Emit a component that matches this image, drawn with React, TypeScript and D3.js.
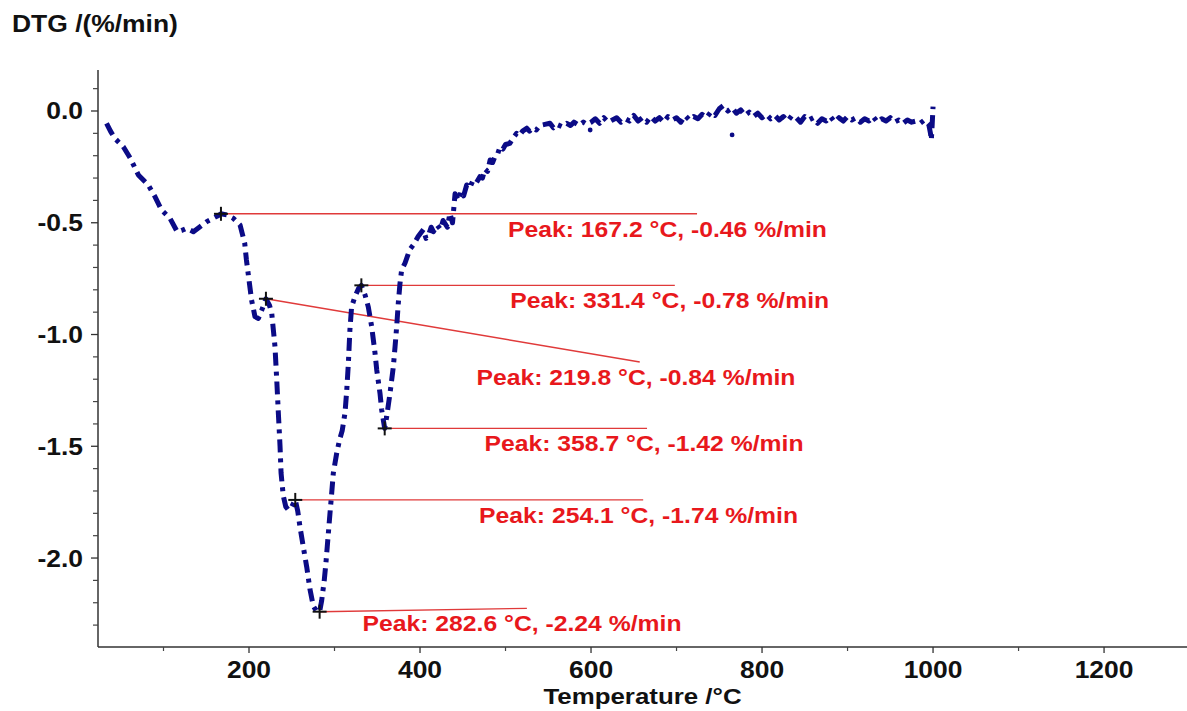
import React from "react";
import * as d3 from "d3";

// ---- Data ----
const temps: number[] = [
  33.4, 38, 43, 53, 61, 70.6, 82, 90, 97.8, 107.6, 116, 121, 127, 135, 142.7, 150.6, 158, 163, 167.2, 174,
  181.6, 189.5, 195, 197, 200, 203, 207, 211, 215, 219.8, 224, 226.6, 228.5, 230.4, 232.4, 234.3, 236.3, 237.5,
  240, 243, 246, 250, 254.1, 257, 259.6, 263.5, 267.5, 271.3, 275.2, 279, 282.6, 285, 288, 290, 291.5, 294.7,
  296.7, 298.6, 302.6, 306, 309, 312.3, 314.3, 316.2, 318, 320, 324, 328, 331.4, 335.7, 339.5, 343.5, 347.4,
  349.4, 353.2, 355.2, 358.7, 361, 364.9, 368.8, 370.8, 372.7, 374.6, 376.6, 378.5, 382.5, 388, 392, 398,
  404, 407, 410, 413, 415.6, 420, 424, 427, 432, 435, 438, 441, 445, 448, 451, 454.6, 458, 462, 466, 470, 473,
  476, 479, 482, 485, 488, 491, 493.6, 497, 500, 505, 509, 513, 516, 520, 524.8, 528, 532, 536, 540, 546, 552,
  556, 560, 566, 571.6, 576, 580, 586, 591, 595,
  600, 605, 610, 615, 620, 625, 630, 635, 640, 645, 650, 655, 660, 665, 670, 675, 680, 685, 690, 695,
  700, 705, 710, 715, 720, 725, 730, 735, 740, 745, 750, 755, 760, 765, 770, 775, 780, 785, 790, 795,
  800, 805, 810, 815, 820, 825, 830, 835, 840, 845, 850, 855, 860, 865, 870, 875, 880, 885, 890, 895,
  900, 905, 910, 915, 920, 925, 930, 935, 940, 945, 950, 955, 960, 965, 970, 975, 980, 985, 990, 995,
  997, 998, 999, 1000,
];
const dtg: number[] = [
  -0.055, -0.09, -0.122, -0.16, -0.21, -0.286, -0.33, -0.383, -0.443, -0.48, -0.54, -0.535, -0.525, -0.54, -0.518, -0.495, -0.48, -0.47, -0.46, -0.465,
  -0.48, -0.51, -0.592, -0.667, -0.756, -0.846, -0.92, -0.928, -0.89, -0.84, -0.87, -0.905, -0.98, -1.055, -1.2, -1.35, -1.5, -1.62,
  -1.72, -1.77, -1.785, -1.77, -1.74, -1.79, -1.86, -1.95, -2.04, -2.14, -2.215, -2.238, -2.24, -2.19, -2.1, -2.02, -1.95, -1.8,
  -1.71, -1.62, -1.53, -1.47, -1.43, -1.35, -1.25, -1.13, -0.98, -0.876, -0.83, -0.795, -0.78, -0.823, -0.876, -0.965, -1.084,
  -1.159, -1.263, -1.338, -1.42, -1.368, -1.263, -1.144, -1.055, -0.965, -0.86, -0.771, -0.711, -0.68, -0.62, -0.6, -0.56,
  -0.53, -0.57, -0.555, -0.52, -0.54, -0.51, -0.53, -0.49, -0.52, -0.458, -0.5, -0.37, -0.4, -0.36, -0.38, -0.331, -0.345, -0.31, -0.32, -0.294, -0.3,
  -0.26, -0.27, -0.219, -0.23, -0.2, -0.19, -0.16, -0.17, -0.15, -0.145, -0.12, -0.1, -0.11, -0.09, -0.077, -0.09, -0.075, -0.085, -0.065, -0.06, -0.055,
  -0.075, -0.06, -0.07, -0.055, -0.065, -0.05, -0.065, -0.05, -0.06,
  -0.05, -0.035, -0.055, -0.03, -0.05, -0.04, -0.03, -0.05, -0.035, -0.045, -0.02, -0.045, -0.03, -0.05, -0.025, -0.045, -0.03, -0.05, -0.025, -0.04,
  -0.03, -0.05, -0.02, -0.04, -0.025, -0.035, -0.015, -0.03, -0.005, -0.02, 0.01, 0.025, 0.0, 0.015, -0.01, 0.005, -0.02, -0.005, -0.025, -0.01,
  -0.03, -0.015, -0.035, -0.02, -0.04, -0.025, -0.045, -0.02, -0.03, -0.05, -0.025, -0.04, -0.03, -0.055, -0.035, -0.045, -0.025, -0.05, -0.03, -0.045,
  -0.025, -0.04, -0.03, -0.05, -0.035, -0.045, -0.025, -0.05, -0.035, -0.045, -0.03, -0.05, -0.04, -0.055, -0.04, -0.05, -0.045, -0.055, -0.04, -0.06,
  -0.1, -0.13, -0.06, 0.02,
];

// stray points
const strayT: number[] = [599, 765];
const strayV: number[] = [-0.085, -0.107];

// peak annotations
const peakT: number[] = [167.2, 331.4, 219.8, 358.7, 254.1, 282.6];
const peakV: number[] = [-0.46, -0.78, -0.84, -1.42, -1.74, -2.24];
const lineEndT: number[] = [724, 698, 657, 665.5, 661, 525];
const lineEndV: number[] = [-0.46, -0.78, -1.123, -1.42, -1.74, -2.225];
const textCenterT: number[] = [689.4, 692, 652.6, 662, 655.6, 519.3];

const xMajorTicks: number[] = [200, 400, 600, 800, 1000, 1200];
const xMinorTicks: number[] = [100, 300, 500, 700, 900, 1100];
const yMajorTicks: number[] = [0, -0.5, -1.0, -1.5, -2.0];

const W = 1187;
const H = 711;
const STRETCH = 1.15;
const FONT = "'Liberation Sans', Arial, Helvetica, sans-serif";

function SText(props: { x: number; y: number; anchor?: string; size: number; fill?: string; children: React.ReactNode }) {
  const { x, y, anchor = "start", size, fill = "#111", children } = props;
  return (
    <g transform={`translate(${x},${y}) scale(${STRETCH},1)`}>
      <text x={0} y={0} textAnchor={anchor as any} fontSize={size} fontWeight="bold" fontFamily={FONT} fill={fill}>
        {children}
      </text>
    </g>
  );
}

export default function App() {
  const left = 98, right = 1187, top = 70, bottom = 647;
  const x = d3.scaleLinear().domain([23.4, 1297]).range([left, right]);
  const y = d3.scaleLinear().domain([-2.398, 0.1834]).range([bottom, top]);

  const pts = temps.map((t, i) => [t, dtg[i]] as [number, number]);
  const line = d3
    .line<[number, number]>()
    .x((d) => x(d[0]))
    .y((d) => y(d[1]));

  const yMinor = d3.range(-23, 2).map((v) => v / 10).filter((v) => Math.abs(v * 2 - Math.round(v * 2)) > 1e-6);

  const fmtY = (v: number) => (Math.abs(v) < 1e-9 ? "0.0" : v.toFixed(1));
  const red = "#e8181c";
  const lineRed = "#e03a3a";
  const navy = "#0b0b86";

  return (
    <svg width={W} height={H} style={{ position: "absolute", left: 0, top: 0, background: "#fff" }}>
      <rect x={0} y={0} width={W} height={H} fill="#fff" />
      {/* Y title */}
      <SText x={12} y={32} size={23}>DTG /(%/min)</SText>

      {/* axes */}
      <line x1={left} y1={top} x2={left} y2={bottom} stroke="#333" strokeWidth={1.5} />
      <line x1={left} y1={bottom} x2={right} y2={bottom} stroke="#333" strokeWidth={1.5} />

      {yMajorTicks.map((v) => (
        <g key={"ym" + v}>
          <line x1={left - 7} x2={left} y1={y(v)} y2={y(v)} stroke="#333" strokeWidth={1.3} />
          <SText x={83} y={y(v) + 8.5} anchor="end" size={23}>
            {fmtY(v)}
          </SText>
        </g>
      ))}
      {yMinor.map((v) => (
        <line key={"yn" + v} x1={left - 5} x2={left} y1={y(v)} y2={y(v)} stroke="#444" strokeWidth={1.2} />
      ))}

      {xMajorTicks.map((t) => (
        <g key={"xm" + t}>
          <line x1={x(t)} x2={x(t)} y1={bottom} y2={bottom + 6} stroke="#333" strokeWidth={1.3} />
          <SText x={x(t)} y={678} anchor="middle" size={23}>
            {String(t)}
          </SText>
        </g>
      ))}
      {xMinorTicks.map((t) => (
        <line key={"xn" + t} x1={x(t)} x2={x(t)} y1={bottom} y2={bottom + 4} stroke="#444" strokeWidth={1.2} />
      ))}

      <SText x={(left + right) / 2} y={704} anchor="middle" size={22.5}>Temperature /°C</SText>

      {/* red annotation lines */}
      {peakT.map((t, i) => (
        <line
          key={"al" + i}
          x1={x(t)}
          y1={y(peakV[i])}
          x2={x(lineEndT[i])}
          y2={y(lineEndV[i])}
          stroke={lineRed}
          strokeWidth={1.4}
        />
      ))}

      {/* curve */}
      <path
        d={line(pts) || ""}
        fill="none"
        stroke={navy}
        strokeWidth={5}
        strokeDasharray="13,6,4,6"
        strokeLinejoin="round"
      />
      {strayT.map((t, i) => (
        <circle key={"st" + i} cx={x(t)} cy={y(strayV[i])} r={2.4} fill={navy} />
      ))}

      {/* peak markers */}
      {peakT.map((t, i) => (
        <g key={"pm" + i} stroke="#111" strokeWidth={2}>
          <line x1={x(t) - 7} x2={x(t) + 7} y1={y(peakV[i])} y2={y(peakV[i])} />
          <line x1={x(t)} x2={x(t)} y1={y(peakV[i]) - 7} y2={y(peakV[i]) + 7} />
        </g>
      ))}

      {/* annotation texts */}
      {peakT.map((t, i) => (
        <SText key={"at" + i} x={x(textCenterT[i])} y={y(lineEndV[i]) + 23} anchor="middle" size={21.5} fill={red}>
          {`Peak: ${t.toFixed(1)} °C, ${peakV[i].toFixed(2)} %/min`}
        </SText>
      ))}
    </svg>
  );
}
